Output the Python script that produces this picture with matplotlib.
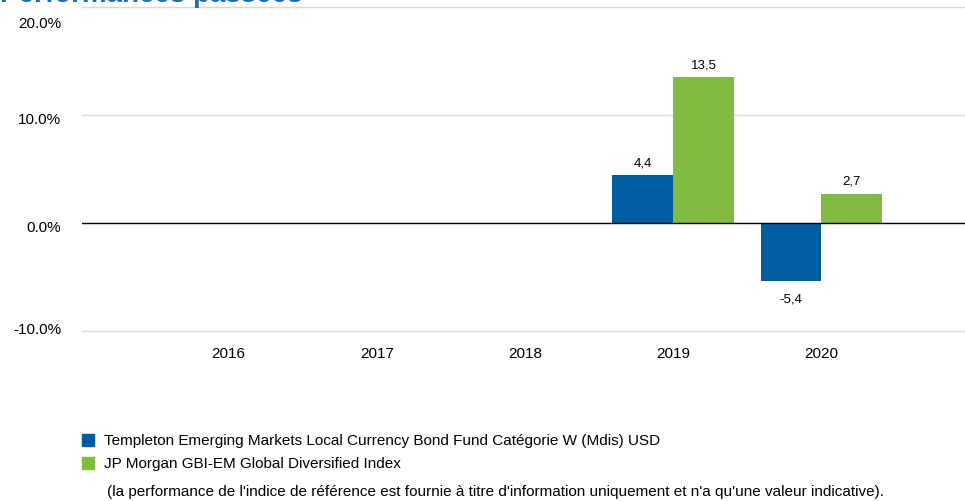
import numpy as np
import matplotlib.pyplot as plt
from matplotlib.transforms import ScaledTranslation

plt.rcParams['font.family'] = ['Liberation Sans', 'DejaVu Sans']

years = ['2016', '2017', '2018', '2019', '2020']
fund = [np.nan, np.nan, np.nan, 4.4, -5.4]
index = [np.nan, np.nan, np.nan, 13.5, 2.7]
yticks = [-10, 0, 10, 20]
fund_name = 'Templeton Emerging Markets Local Currency Bond Fund Catégorie W (Mdis) USD'
index_name = 'JP Morgan GBI-EM Global Diversified Index'
note = "(la performance de l'indice de référence est fournie à titre d'information uniquement et n'a qu'une valeur indicative)."

blue = '#005da2'
green = '#7fbc41'

fig = plt.figure(figsize=(9.65, 5.02), dpi=100)
ax = fig.add_axes([0.085, 0.339, 0.915, 0.645])

x = np.arange(len(years))
w = 0.41
b1 = ax.bar(x - w / 2, fund, w, color=blue)
b2 = ax.bar(x + w / 2, index, w, color=green)

# value labels with comma decimals
for bars, vals in [(b1, fund), (b2, index)]:
    for rect, v in zip(bars, vals):
        if np.isnan(v):
            continue
        cx = rect.get_x() + rect.get_width() / 2
        if v >= 0:
            ax.annotate(f'{v:.1f}'.replace('.', ','), (cx, v), xytext=(0, 5),
                        textcoords='offset points', ha='center', va='bottom', fontsize=9.5)
        else:
            ax.annotate(f'{v:.1f}'.replace('.', ','), (cx, v), xytext=(0, -8),
                        textcoords='offset points', ha='center', va='top', fontsize=9.5)

ax.set_xlim(-0.99, 4.97)
ax.set_ylim(-10, 20)
ax.set_yticks(yticks)
ax.set_yticklabels([f'{t:.1f}%' for t in yticks], fontsize=11)
ax.set_xticks(x)
ax.set_xticklabels(years, fontsize=11)
ax.tick_params(axis='both', length=0)
ax.tick_params(axis='x', pad=11)
ax.tick_params(axis='y', pad=15)

# the source's y labels sit slightly off their gridlines
shifts = {-10: 3, 0: -3, 10: -3, 20: -14}
for t, lab in zip(yticks, ax.get_yticklabels()):
    lab.set_transform(lab.get_transform() + ScaledTranslation(0, shifts[t] / 100, fig.dpi_scale_trans))

for t in yticks:
    if t != 0:
        ax.axhline(t, color='#d9d9d9', lw=1, zorder=0, clip_on=False)
ax.axhline(0, color='black', lw=1, zorder=3)
for s in ax.spines.values():
    s.set_visible(False)

# title, cut off at top as in the source
fig.text(0.0, 0.997, 'Performances passées', fontsize=20, fontweight='bold',
         color='#1a6db5', ha='left', va='baseline')

# legend
fig.patches.append(plt.Rectangle((82 / 965, 1 - 447 / 502), 12 / 965, 12 / 502,
                                 transform=fig.transFigure, color=blue))
fig.patches.append(plt.Rectangle((82 / 965, 1 - 470 / 502), 12 / 965, 12 / 502,
                                 transform=fig.transFigure, color=green))
fig.text(104 / 965, 1 - 441 / 502, fund_name, fontsize=11, va='center')
fig.text(104 / 965, 1 - 464 / 502, index_name, fontsize=11, va='center')
fig.text(107 / 965, 1 - 492 / 502, note, fontsize=11, va='center')

fig.savefig('out.png', dpi=100)
